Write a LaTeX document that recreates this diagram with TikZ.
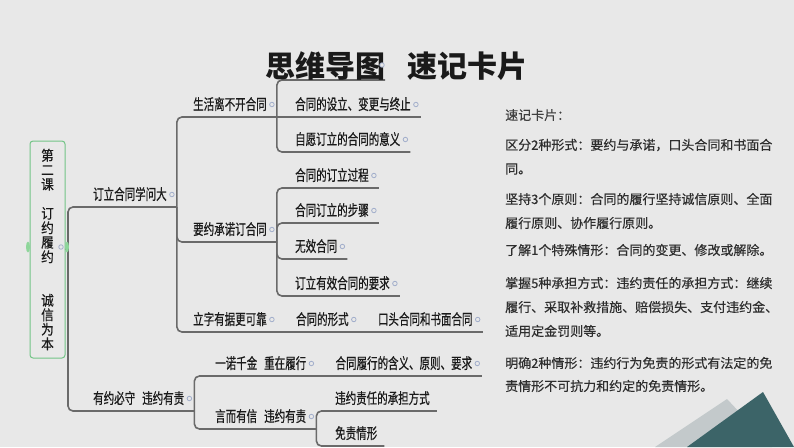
\documentclass[tikz,border=0pt]{standalone}
\usepackage{fontspec}
\usepackage{xcolor}
\usetikzlibrary{positioning,shapes.geometric}
\newfontfamily\cjk{Noto Sans CJK SC}
\newfontfamily\cardcjk[FakeBold=0.3]{Noto Sans CJK SC}
\newfontfamily\rootcjk[FakeStretch=0.9,FakeBold=0.4]{Noto Sans CJK SC}
\newfontfamily\mapcjk[FakeStretch=0.7,FakeBold=0.6]{Noto Sans CJK SC}
\definecolor{bg}{HTML}{E8E8E8}
\definecolor{ink}{HTML}{1A1A1A}
\definecolor{linegray}{HTML}{6A6A6A}
\definecolor{dotline}{HTML}{A2AECB}
\definecolor{rootgreen}{HTML}{72C486}
\definecolor{handlegreen}{HTML}{8ED69A}
\definecolor{titleink}{HTML}{1A1A1A}
\definecolor{cardink}{HTML}{2E2E2E}
\definecolor{cardhead}{HTML}{404040}
\definecolor{teal}{HTML}{3C6468}
\definecolor{paleslate}{HTML}{C3C9CB}
\begin{document}
\begin{tikzpicture}[
  x=1pt,y=-1pt,
  base/.style={font=\mapcjk\fontsize{15}{17}\selectfont,text=ink,inner sep=0pt,anchor=south west,text height=11pt,text depth=7pt},
  topic/.style={base,execute at end node={\hspace*{10pt}}},
  leaf/.style={base,execute at end node={\hspace*{7pt}}},
  link/.style={draw=linegray,line width=1.6pt,rounded corners=5pt},
  dot/.style={circle,draw=dotline,fill=bg,line width=0.8pt,inner sep=0pt,minimum size=4.5pt},
  handle/.style={ellipse,fill=handlegreen,inner sep=0pt,minimum width=4pt,minimum height=11pt},
  card/.style={font=\cardcjk\fontsize{13}{16}\selectfont,text=cardink,inner sep=0pt,anchor=west}
]
\fill[bg] (0,0) rectangle (794,447);
\useasboundingbox (0,0) rectangle (794,447);
% corner decoration
\fill[paleslate] (655,447) -- (727,399) -- (772,447) -- cycle;
\fill[teal] (687,447) -- (763,392) -- (794,447) -- cycle;
% root
\node[draw=rootgreen,fill=bg,line width=1pt,rounded corners=3pt,minimum width=35pt,minimum height=217pt,inner sep=0pt,align=center,font=\rootcjk\fontsize{14}{14.5}\selectfont,text=ink] (root) at (47.5,249.5) {第\\二\\课\\~\\订\\约\\履\\约\\~\\~\\诚\\信\\为\\本};
\coordinate (fork) at (68,247);
% topics
\node[topic] (dingli) at (93,207) {订立合同学问大};
\node[topic] (youyue) at (93,411) {有约必守\hspace{7pt}违约有责};
\node[topic] (shenghuo) at (193,117) {生活离不开合同};
\node[topic] (yaoyue) at (193,242) {要约承诺订合同};
\node[topic] (lizi) at (193,332) {立字有据更可靠};
\coordinate (hidden) at (385,80);
\node[topic] (sheli) at (295,117) {合同的设立、变更与终止};
\node[topic] (ziyuan) at (295,152) {自愿订立的合同的意义};
\node[topic] (guocheng) at (295,188) {合同的订立过程};
\node[topic] (buzhou) at (295,223) {合同订立的步骤};
\node[topic] (wuxiao) at (295,259) {无效合同};
\node[topic] (yaoqiu) at (295,296) {订立有效合同的要求};
\node[topic,right=19pt of lizi.south east,anchor=south west] (xingshi) {合同的形式};
\node[topic,right=19pt of xingshi.south east,anchor=south west] (koutou) {口头合同和书面合同};
\node[topic] (yinuo) at (215,376) {一诺千金\hspace{7pt}重在履行};
\node[topic,right=19pt of yinuo.south east,anchor=south west] (lvxing) {合同履行的含义、原则、要求};
\node[topic] (yaner) at (215,429) {言而有信\hspace{7pt}违约有责};
\node[leaf] (zeren) at (335,411) {违约责任的承担方式};
\node[leaf] (mianze) at (335,446) {免责情形};
% links
\draw[link] (root.east) -- (fork);
\draw[link] (fork) |- (dingli.south east);
\draw[link] (fork) |- (youyue.south east);
\draw[link] (dingli.south east) |- (shenghuo.south east);
\draw[link] (dingli.south east) |- (yaoyue.south east);
\draw[link] (dingli.south east) |- (lizi.south east);
\draw[link] (shenghuo.south east) |- (hidden);
\draw[link] (shenghuo.south east) -- (sheli.south east);
\draw[link] (shenghuo.south east) |- (ziyuan.south east);
\draw[link] (yaoyue.south east) |- (guocheng.south east);
\draw[link] (yaoyue.south east) |- (buzhou.south east);
\draw[link] (yaoyue.south east) |- (wuxiao.south east);
\draw[link] (yaoyue.south east) |- (yaoqiu.south east);
\draw[link] (lizi.south east) -- (xingshi.south east);
\draw[link] (xingshi.south east) -- (koutou.south east);
\draw[link] (youyue.south east) |- (yinuo.south east);
\draw[link] (youyue.south east) |- (yaner.south east);
\draw[link] (yinuo.south east) -- (lvxing.south east);
\draw[link] (yaner.south east) |- (zeren.south east);
\draw[link] (yaner.south east) |- (mianze.south east);
\foreach \n in {dingli,youyue,shenghuo,yaoyue,lizi,sheli,ziyuan,guocheng,buzhou,wuxiao,yaoqiu,xingshi,koutou,yinuo,lvxing,yaner}
  \node[dot] at ([xshift=-5pt,yshift=12.5pt]\n.south east) {};
\node[handle] (lhandle) at (28,247) {};
\node[handle] (rhandle) at (67,247) {};
\node[dot] (rootdot) at (61,247) {};
% title
\node[font=\cjk\bfseries\fontsize{30}{32}\selectfont,text=titleink,inner sep=0pt] (title) at (396.5,66) {思维导图\hspace{23pt}速记卡片};
\node[dot] (hiddendot) at (382,65) {};
% card
\node[card,text=cardhead] (cardhead) at (505,115) {速记卡片：};
\foreach \y/\t [count=\i] in {145/区分2种形式：要约与承诺，口头合同和书面合,169/同。,199/坚持3个原则：合同的履行坚持诚信原则、全面,223/履行原则、协作履行原则。,250/了解1个特殊情形：合同的变更、修改或解除。,283/掌握5种承担方式：违约责任的承担方式：继续,307/履行、采取补救措施、赔偿损失、支付违约金、,331/适用定金罚则等。,363/明确2种情形：违约行为免责的形式有法定的免,386/责情形不可抗力和约定的免责情形。}
  \node[card] (card\i) at (505,\y) {\t};
\end{tikzpicture}
\end{document}
